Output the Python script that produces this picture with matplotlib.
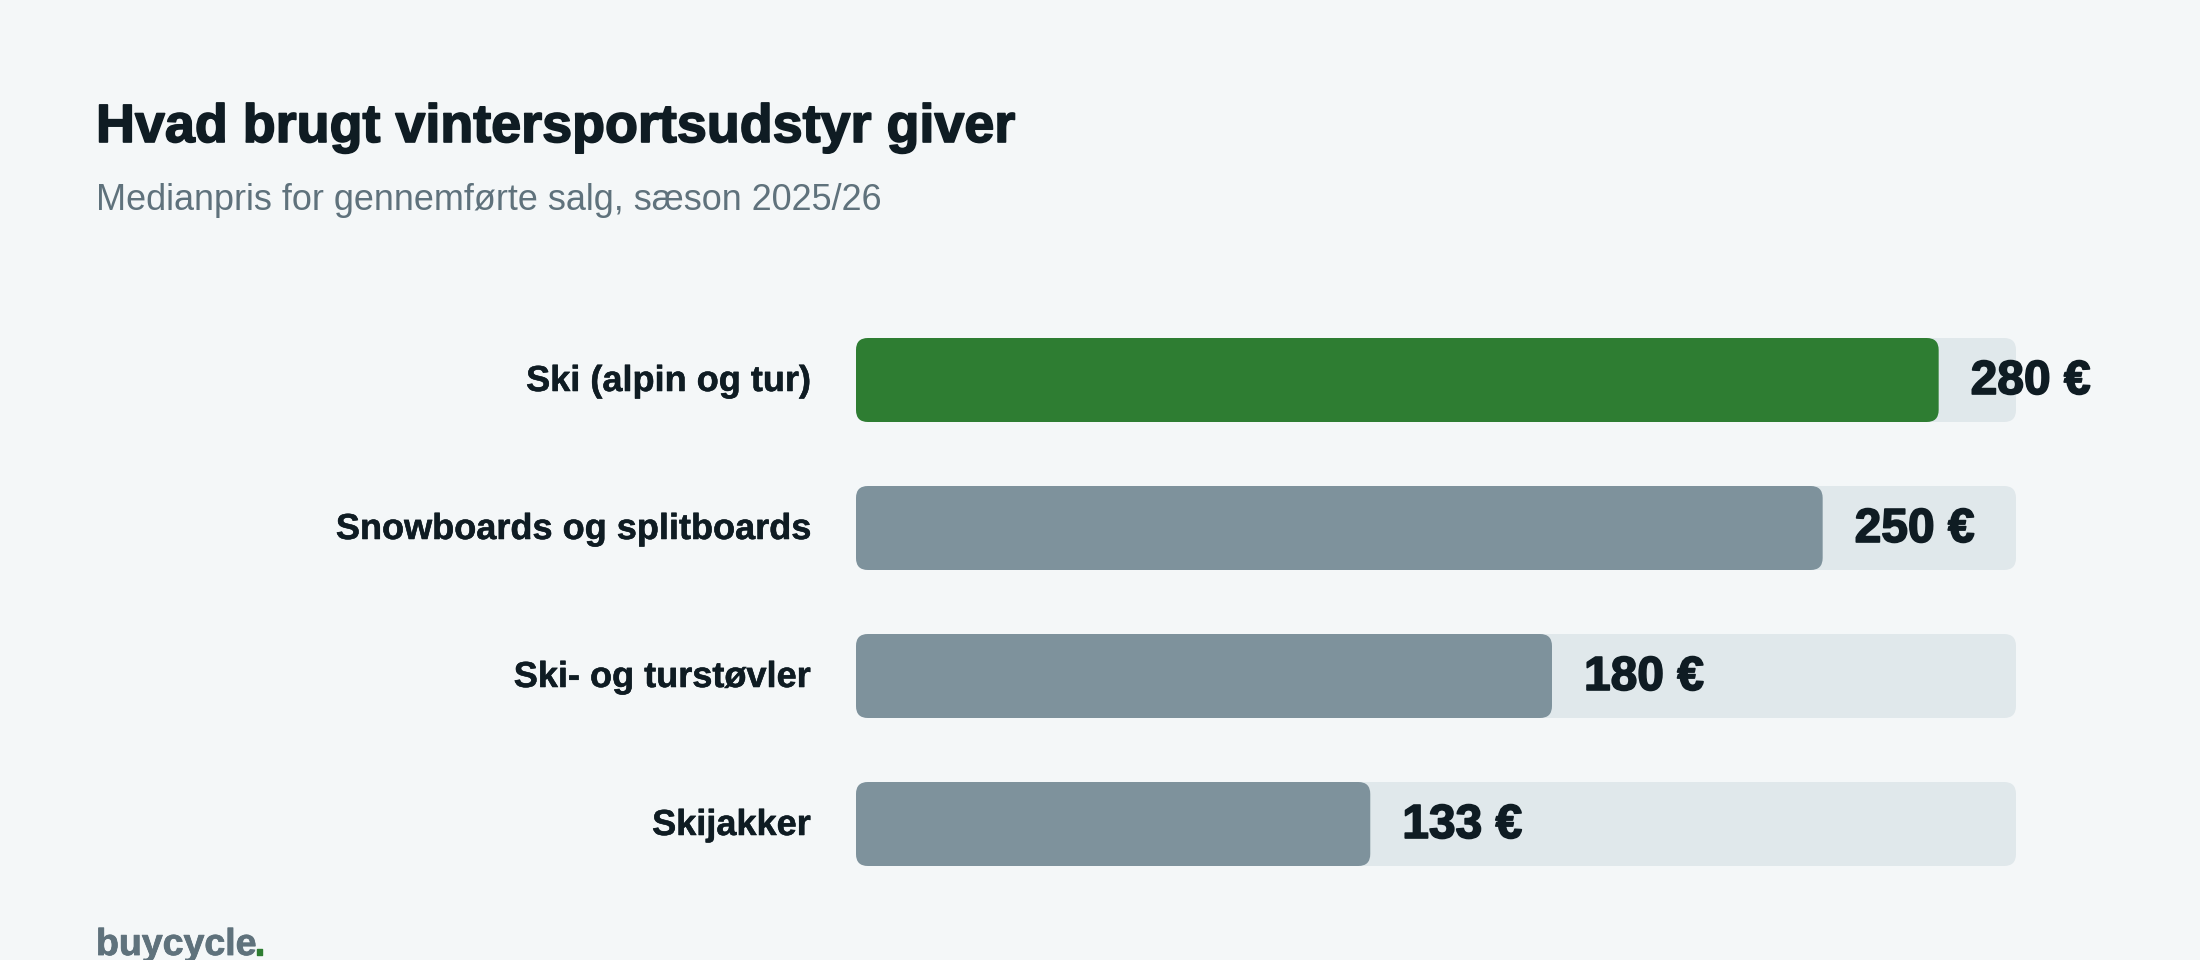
import matplotlib
matplotlib.use("Agg")
import matplotlib.pyplot as plt
import matplotlib.patheffects as pe
from matplotlib.patches import FancyBboxPatch

categories = ["Ski (alpin og tur)", "Snowboards og splitboards", "Ski- og turstøvler", "Skijakker"]
prices = [280, 250, 180, 133]
price_labels = ["280 €", "250 €", "180 €", "133 €"]
axis_max = 300

title = "Hvad brugt vintersportsudstyr giver"
subtitle = "Medianpris for gennemførte salg, sæson 2025/26"
brand = "buycycle"

BG = "#F4F7F8"
TRACK = "#E0E8EB"
GREY = "#7E929C"
GREEN = "#2E7D32"
INK = "#0F1C23"
MUTED = "#5F727C"
W, H = 2200, 960

plt.rcParams["font.family"] = ["Liberation Sans", "DejaVu Sans"]

fig = plt.figure(figsize=(W / 100, H / 100), dpi=100, facecolor=BG)
ax = fig.add_axes([856 / W, 1 - 898 / H, 1160 / W, 592 / H])
ax.set_xlim(0, axis_max)
ax.set_ylim(3.5, -0.5)
ax.axis("off")

bar_h = 84 / 148
aspect = (1160 / axis_max) / 148
radius = 12 / (1160 / axis_max)


def heavier(width, color):
    # the fonts here stop at bold, a thin outline gets closer to the heavy cut
    return [pe.withStroke(linewidth=width, foreground=color)]


def rounded_bar(i, value, color):
    ax.add_patch(FancyBboxPatch((0, i - bar_h / 2), value, bar_h,
                                boxstyle=f"round,pad=0,rounding_size={radius}",
                                mutation_aspect=aspect, fc=color, ec="none"))


for i, (cat, price, lab) in enumerate(zip(categories, prices, price_labels)):
    rounded_bar(i, axis_max, TRACK)
    rounded_bar(i, price, GREEN if i == 0 else GREY)
    ax.annotate(cat, xy=(0, i), xytext=(-45 * 0.72, -11 * 0.72), textcoords="offset points",
                ha="right", va="baseline", fontsize=26, fontweight="bold", color=INK,
                path_effects=heavier(0.4, INK))
    ax.annotate(lab, xy=(price, i), xytext=(32 * 0.72, -14 * 0.72), textcoords="offset points",
                ha="left", va="baseline", fontsize=34.5, fontweight="bold", color=INK,
                path_effects=heavier(1.2, INK))


def page_text(x, y, s, **kw):
    return fig.text(x / W, 1 - y / H, s, va="baseline", ha="left", **kw)


page_text(96, 142, title, fontsize=38.8, fontweight="bold", color=INK,
          path_effects=heavier(1.2, INK))
page_text(96, 210, subtitle, fontsize=25.9, color=MUTED)
page_text(96, 955, brand, fontsize=27, fontweight="bold", color=MUTED,
          path_effects=heavier(0.6, MUTED))
page_text(254, 955, ".", fontsize=27, fontweight="bold", color=GREEN,
          path_effects=heavier(1.0, GREEN))

fig.savefig("out.png", dpi=100, facecolor=BG)
